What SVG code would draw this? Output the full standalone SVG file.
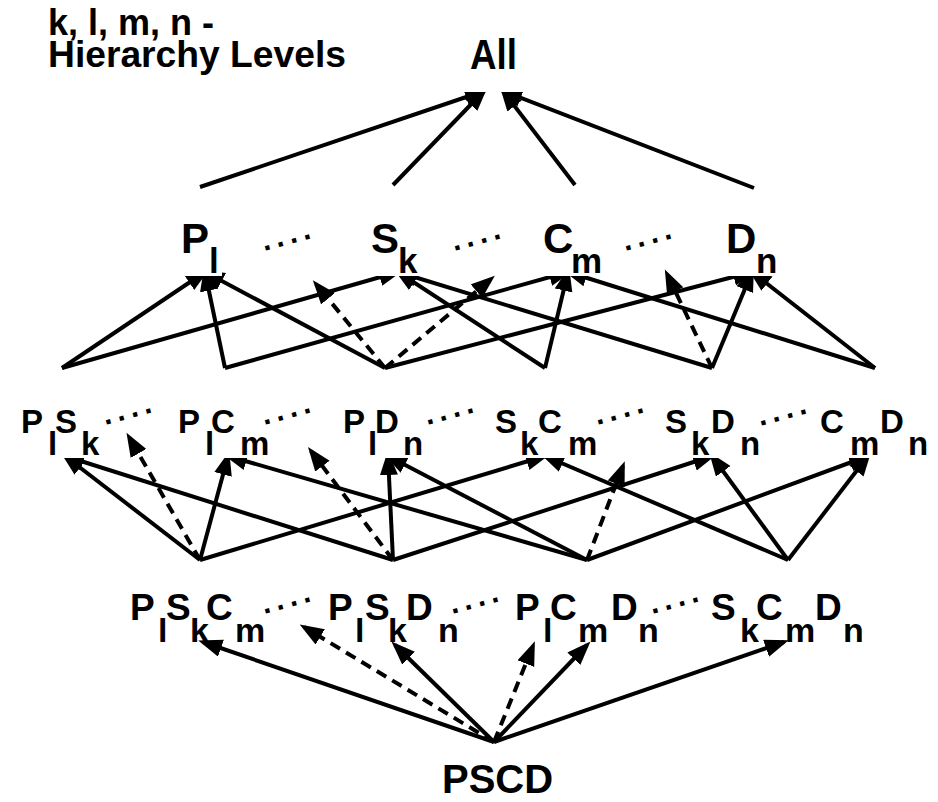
<svg xmlns="http://www.w3.org/2000/svg" width="938" height="802" viewBox="0 0 938 802">
  <style>
    .lbl { font-family: "Liberation Sans", Arial, Helvetica, sans-serif; font-weight: bold; fill: #000; }
    .t1 { font-size: 42px; }
    .s1 { font-size: 35px; }
    .t2 { font-size: 33px; }
    .t3 { font-size: 37px; }
    .s3 { font-size: 34px; }
    .bg { fill: #fff; stroke: none; }
    .dots { font-family: "Liberation Sans", Arial, sans-serif; font-weight: bold; font-size: 30px; letter-spacing: 5.5px; fill: #000; }
    .edge { fill: none; stroke: #000; stroke-width: 4; marker-end: url(#head); }
    .dash { stroke-dasharray: 11 7; }
  </style>
  <defs>
    <marker id="head" markerUnits="userSpaceOnUse" markerWidth="26" markerHeight="20" refX="19" refY="9" orient="auto">
      <path d="M0,0 L24,9 L0,18 z" fill="#000"/>
    </marker>
  </defs>

  <rect width="938" height="802" fill="#fff"/>

  <!-- legend -->
  <g id="legend" class="lbl" font-size="36">
    <text x="48" y="35">k, l, m, n -</text>
    <text x="48" y="67" textLength="298" lengthAdjust="spacingAndGlyphs">Hierarchy Levels</text>
  </g>

  <!-- connectors -->
  <g id="connectors">
    <!-- single dimensions to All -->
    <path class="edge" d="M200,187 L484,91"/>
    <path class="edge" d="M393,185 L484,91"/>
    <path class="edge" d="M575,185 L503,91"/>
    <path class="edge" d="M754,188 L503,91"/>

    <!-- pairs to single dimensions -->
    <path class="edge" d="M62,368 L205,272"/>
    <path class="edge" d="M62,368 L398,272"/>
    <path class="edge" d="M225,368 L205,272"/>
    <path class="edge" d="M225,368 L568,272"/>
    <path class="edge" d="M385,368 L205,272"/>
    <path class="edge" d="M385,368 L752,272"/>
    <path class="edge" d="M545,368 L398,272"/>
    <path class="edge" d="M545,368 L568,272"/>
    <path class="edge" d="M712,368 L398,272"/>
    <path class="edge" d="M712,368 L752,272"/>
    <path class="edge" d="M875,368 L568,272"/>
    <path class="edge" d="M875,368 L752,272"/>
    <path class="edge dash" d="M385,368 L316,284"/>
    <path class="edge dash" d="M385,368 L491,279"/>
    <path class="edge dash" d="M712,368 L667,274"/>

    <!-- triples to pairs -->
    <path class="edge" d="M200,560 L65,456"/>
    <path class="edge" d="M200,560 L228,456"/>
    <path class="edge" d="M200,560 L545,456"/>
    <path class="edge" d="M393,560 L65,456"/>
    <path class="edge" d="M393,560 L388,456"/>
    <path class="edge" d="M393,560 L712,456"/>
    <path class="edge" d="M587,560 L228,456"/>
    <path class="edge" d="M587,560 L388,456"/>
    <path class="edge" d="M587,560 L868,456"/>
    <path class="edge" d="M788,560 L545,456"/>
    <path class="edge" d="M788,560 L712,456"/>
    <path class="edge" d="M788,560 L868,456"/>
    <path class="edge dash" d="M200,560 L129,437"/>
    <path class="edge dash" d="M393,560 L311,451"/>
    <path class="edge dash" d="M587,560 L623,466"/>

    <!-- PSCD to triples -->
    <path class="edge" d="M494,742 L203,642"/>
    <path class="edge" d="M494,742 L395,645"/>
    <path class="edge" d="M494,742 L587,645"/>
    <path class="edge" d="M494,742 L784,642"/>
    <path class="edge dash" d="M494,742 L304,627"/>
    <path class="edge dash" d="M494,742 L533,646"/>
  </g>

  <!-- top node -->
  <g id="node-all">
    <rect class="bg" x="462" y="32" width="68" height="60"/>
    <text class="lbl t1" x="470" y="69" textLength="47" lengthAdjust="spacingAndGlyphs">All</text>
  </g>

  <!-- single dimensions -->
  <g id="node-P">
    <rect class="bg" x="180" y="215" width="42" height="61"/>
    <text class="lbl t1"><tspan x="181" y="253">P</tspan><tspan class="s1" x="209" y="273">l</tspan></text>
  </g>
  <g id="node-S">
    <rect class="bg" x="369" y="215" width="52" height="61"/>
    <text class="lbl t1"><tspan x="371" y="253">S</tspan><tspan class="s1" x="398" y="273">k</tspan></text>
  </g>
  <g id="node-C">
    <rect class="bg" x="541" y="215" width="65" height="61"/>
    <text class="lbl t1"><tspan x="543" y="253">C</tspan><tspan class="s1" x="571" y="273">m</tspan></text>
  </g>
  <g id="node-D">
    <rect class="bg" x="724" y="215" width="55" height="61"/>
    <text class="lbl t1"><tspan x="726" y="253">D</tspan><tspan class="s1" x="756" y="273">n</tspan></text>
  </g>

  <!-- pairs -->
  <g id="node-PS">
    <rect class="bg" x="20" y="405" width="83" height="53"/>
    <text class="lbl t2"><tspan x="21" y="433">P</tspan><tspan x="48" y="455">l</tspan><tspan x="55" y="433">S</tspan><tspan x="81" y="455">k</tspan></text>
  </g>
  <g id="node-PC">
    <rect class="bg" x="177" y="405" width="96" height="53"/>
    <text class="lbl t2"><tspan x="178" y="433">P</tspan><tspan x="205" y="455">l</tspan><tspan x="211" y="433">C</tspan><tspan x="240" y="455">m</tspan></text>
  </g>
  <g id="node-PD">
    <rect class="bg" x="342" y="405" width="86" height="53"/>
    <text class="lbl t2"><tspan x="343" y="433">P</tspan><tspan x="368" y="455">l</tspan><tspan x="375" y="433">D</tspan><tspan x="403" y="455">n</tspan></text>
  </g>
  <g id="node-SC">
    <rect class="bg" x="494" y="405" width="106" height="53"/>
    <text class="lbl t2"><tspan x="495" y="433">S</tspan><tspan x="520" y="455">k</tspan><tspan x="538" y="433">C</tspan><tspan x="568" y="455">m</tspan></text>
  </g>
  <g id="node-SD">
    <rect class="bg" x="664" y="405" width="97" height="53"/>
    <text class="lbl t2"><tspan x="665" y="433">S</tspan><tspan x="691" y="455">k</tspan><tspan x="711" y="433">D</tspan><tspan x="740" y="455">n</tspan></text>
  </g>
  <g id="node-CD">
    <rect class="bg" x="819" y="405" width="112" height="53"/>
    <text class="lbl t2"><tspan x="820" y="433">C</tspan><tspan x="850" y="455">m</tspan><tspan x="880" y="433">D</tspan><tspan x="908" y="455">n</tspan></text>
  </g>

  <!-- triples -->
  <g id="node-PSC">
    <text class="lbl t3"><tspan x="130" y="620">P</tspan><tspan class="s3" x="158" y="642">l</tspan><tspan x="166" y="620">S</tspan><tspan class="s3" x="190" y="642">k</tspan><tspan x="206" y="620">C</tspan><tspan class="s3" x="235" y="642">m</tspan></text>
  </g>
  <g id="node-PSD">
    <text class="lbl t3"><tspan x="328" y="620">P</tspan><tspan class="s3" x="355" y="642">l</tspan><tspan x="365" y="620">S</tspan><tspan class="s3" x="388" y="642">k</tspan><tspan x="406" y="620">D</tspan><tspan class="s3" x="438" y="642">n</tspan></text>
  </g>
  <g id="node-PCD">
    <text class="lbl t3"><tspan x="515" y="620">P</tspan><tspan class="s3" x="543" y="642">l</tspan><tspan x="550" y="620">C</tspan><tspan class="s3" x="578" y="642">m</tspan><tspan x="611" y="620">D</tspan><tspan class="s3" x="638" y="642">n</tspan></text>
  </g>
  <g id="node-SCD">
    <text class="lbl t3"><tspan x="711" y="620">S</tspan><tspan class="s3" x="740" y="642">k</tspan><tspan x="756" y="620">C</tspan><tspan class="s3" x="785" y="642">m</tspan><tspan x="815" y="620">D</tspan><tspan class="s3" x="843" y="642">n</tspan></text>
  </g>

  <!-- bottom node -->
  <g id="node-PSCD">
    <text class="lbl" font-size="40" x="442" y="793">PSCD</text>
  </g>

  <!-- continuation dots between labels -->
  <g id="ellipses">
    <text class="dots" x="264" y="251" transform="rotate(-15 264 251)">....</text>
    <text class="dots" x="454" y="251" transform="rotate(-15 454 251)">....</text>
    <text class="dots" x="625" y="251" transform="rotate(-15 625 251)">....</text>
    <text class="dots" x="105" y="425" transform="rotate(-15 105 425)">....</text>
    <text class="dots" x="264" y="425" transform="rotate(-15 264 425)">....</text>
    <text class="dots" x="427" y="425" transform="rotate(-15 427 425)">....</text>
    <text class="dots" x="597" y="425" transform="rotate(-15 597 425)">....</text>
    <text class="dots" x="760" y="426" transform="rotate(-15 760 426)">....</text>
    <text class="dots" x="264" y="614" transform="rotate(-15 264 614)">....</text>
    <text class="dots" x="452" y="614" transform="rotate(-15 452 614)">....</text>
    <text class="dots" x="652" y="614" transform="rotate(-15 652 614)">....</text>
  </g>
</svg>
